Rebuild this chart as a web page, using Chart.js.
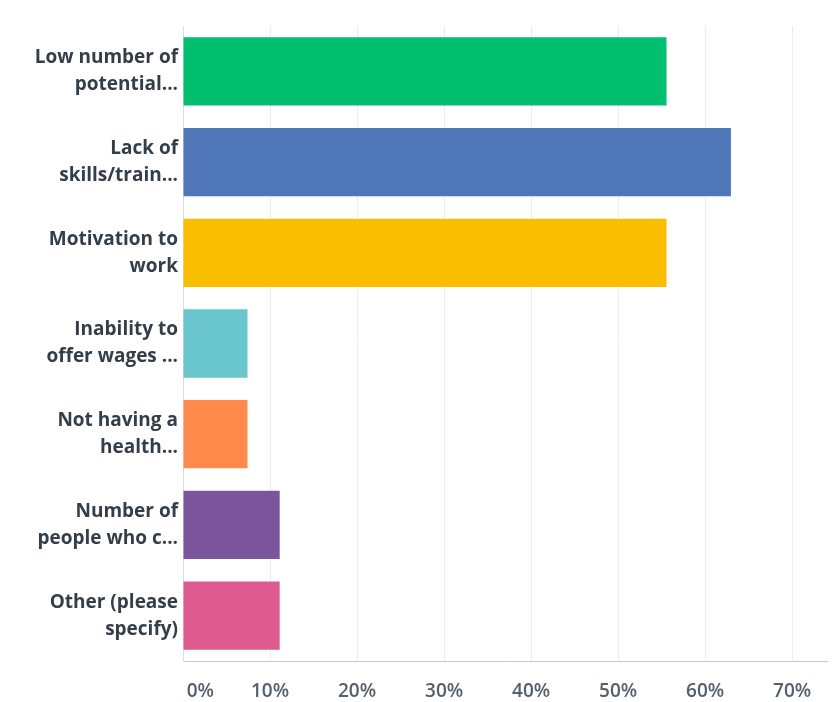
<!DOCTYPE html>
<html>
<head>
<meta charset="utf-8">
<script src="https://cdn.jsdelivr.net/npm/chart.js@4/dist/chart.umd.min.js"></script>
<style>
  html, body { margin: 0; padding: 0; background: #ffffff; }
  #wrap { width: 834px; height: 702px; position: relative; }
</style>
</head>
<body>
<div id="wrap"><canvas id="chart"></canvas></div>
<script>
// Answer options (wrapped onto two lines as shown on the axis)
const categories = [
  ['Low number of', 'potential...'],
  ['Lack of', 'skills/train...'],
  ['Motivation to', 'work'],
  ['Inability to', 'offer wages ...'],
  ['Not having a', 'health...'],
  ['Number of', 'people who c...'],
  ['Other (please', 'specify)']
];

// Share of respondents choosing each option (%)
const percentages = [55.56, 62.96, 55.56, 7.41, 7.41, 11.11, 11.11];

// One colour per answer option
const barColors = ['#00bf6f', '#4f76b6', '#f9be00', '#6ac6cd', '#ff8a4c', '#7a549c', '#df5a8e'];

// Tick values on the percentage axis
const tickValues = [0, 10, 20, 30, 40, 50, 60, 70];

const LABEL_FONT = "'Open Sans', 'DejaVu Sans', sans-serif";

new Chart(document.getElementById('chart'), {
  type: 'bar',
  data: {
    labels: categories,
    datasets: [{
      data: percentages,
      backgroundColor: barColors,
      borderWidth: 0,
      barPercentage: 0.753,
      categoryPercentage: 1.0
    }]
  },
  options: {
    indexAxis: 'y',
    responsive: true,
    maintainAspectRatio: false,
    animation: false,
    layout: { padding: { top: 26, right: 7, bottom: 0, left: 0 } },
    plugins: {
      legend: { display: false },
      tooltip: { enabled: false }
    },
    scales: {
      x: {
        min: 0,
        max: 74,
        afterBuildTicks: (scale) => {
          scale.ticks = tickValues.map(v => ({ value: v }));
        },
        afterFit: (scale) => { scale.height = 41; },
        grid: {
          color: '#ececec',
          lineWidth: 1,
          drawTicks: false
        },
        border: { display: true, color: '#c8c8c8', width: 1 },
        ticks: {
          padding: 19,
          color: '#56606a',
          font: { family: LABEL_FONT, size: 19, weight: '600' },
          maxRotation: 0,
          autoSkip: false,
          callback: (v) => (v === 0 ? ' '.repeat(7) + '0%' : v + '%')
        }
      },
      y: {
        afterFit: (scale) => {
          scale.width = 183;
          // labels sit inside their bands, so no extra room above/below is needed
          scale.paddingTop = 0;
          scale.paddingBottom = 0;
        },
        grid: { display: false, drawTicks: false },
        border: { display: true, color: '#dcdcdc', width: 1 },
        ticks: {
          padding: 5,
          color: '#333e48',
          font: { family: LABEL_FONT, size: 19, weight: '700', lineHeight: 1.42 },
          autoSkip: false
        }
      }
    }
  }
});
</script>
</body>
</html>
